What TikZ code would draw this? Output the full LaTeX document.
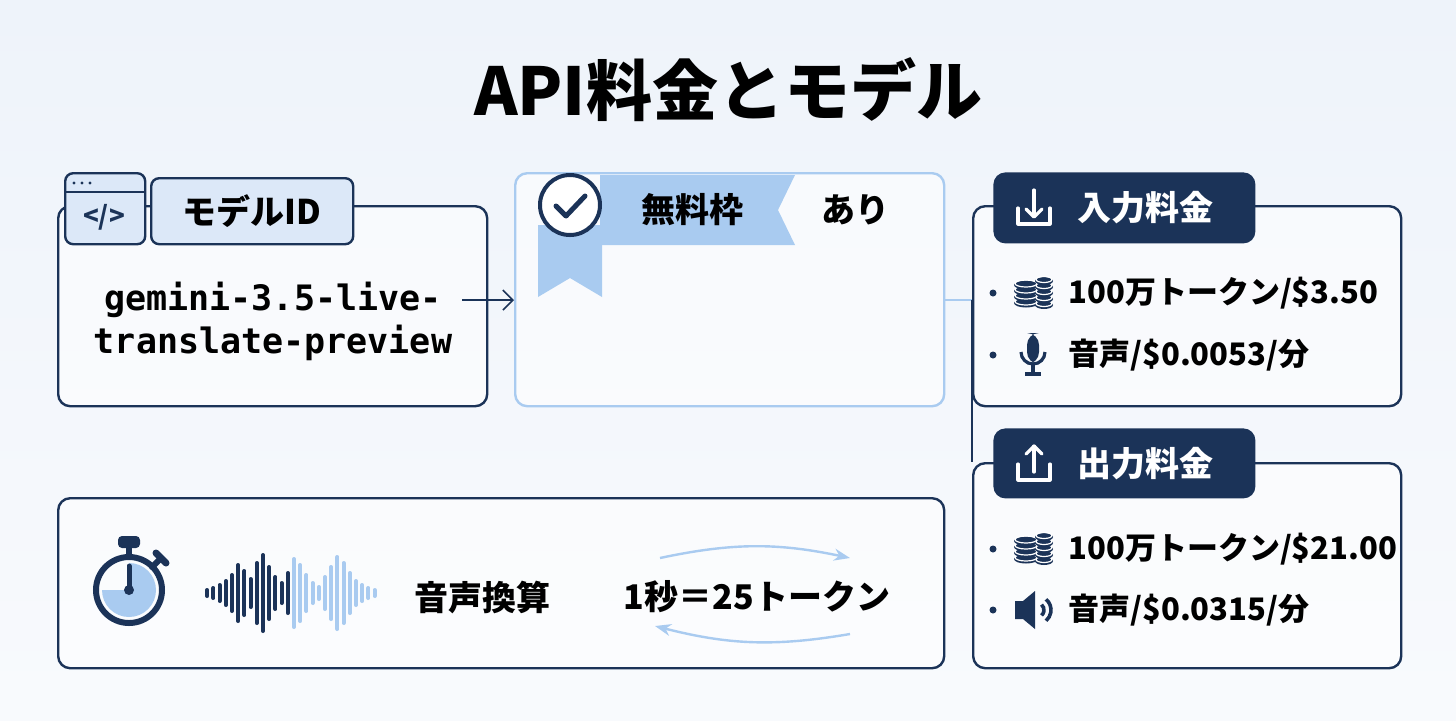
\documentclass[tikz,border=0pt]{standalone}
\usepackage{fontspec}
\setmainfont{Noto Sans CJK JP}
\setmonofont{DejaVu Sans Mono}
\usetikzlibrary{arrows.meta}
\definecolor{navy}{HTML}{1B3358}
\definecolor{lb}{HTML}{A9CBF0}
\definecolor{lbf}{HTML}{DCE8F8}
\definecolor{bg}{HTML}{EEF3FA}
\begin{document}
\begin{tikzpicture}[x=0.5pt,y=-0.5pt,
 box/.style={draw=navy,line width=1.2pt,rounded corners=6pt,fill=white,fill opacity=0.55,text opacity=1},
 lbox/.style={draw=lb,line width=1.2pt,rounded corners=6pt,fill=white,fill opacity=0.55},
 hdr/.style={fill=navy,rounded corners=6pt},
 txt/.style={font=\bfseries\fontsize{17}{20}\selectfont,text=black,anchor=west,inner sep=0},
 btxt/.style={font=\bfseries\fontsize{15.5}{18}\selectfont,text=black,anchor=west,inner sep=0},
 ic/.style={draw=navy,line width=1.4pt}]
\useasboundingbox (0,0) rectangle (1456,720);
\shade[top color=bg,bottom color=white!60!bg] (0,0) rectangle (1456,720);
\node (title) at (728,90) {\bfseries\fontsize{33}{37}\selectfont API料金とモデル};
% box 1
\node[box,minimum width=214.5pt,minimum height=100pt,anchor=north west] (b1) at (57,205) {};
\node[draw=navy,line width=1.2pt,rounded corners=4pt,fill=lbf,minimum width=101pt,minimum height=33pt,anchor=north west] (lab1) at (150,177) {};
\node[txt,anchor=center] at (lab1.center) {モデルID};
\node[draw=navy,line width=1.2pt,rounded corners=4pt,fill=lbf,minimum width=40pt,minimum height=35.5pt,anchor=north west] (ic1) at (64,172) {};
\draw[navy,line width=1.2pt] (64,192)--(144,192);
\foreach \x in {74,82,90} \fill[navy] (\x,183) circle (1.6);
\node[text=navy,font=\bfseries\fontsize{13}{13}\selectfont] at (104,217) {</>};
\node[font=\ttfamily\bfseries\fontsize{17.5}{21.5}\selectfont,align=center] (id) at (273,321) {gemini-3.5-live-\\translate-preview};
\coordinate (a1) at (462,300);
% box 2
\node[lbox,minimum width=214.5pt,minimum height=116.5pt,anchor=north west] (b2) at (514,172) {};
\draw[-{Straight Barb[length=5pt]},navy,line width=0.8pt] (a1) -- (b2.west|-a1);
\fill[lb] (600,175)--(795,175)--(778,210)--(795,245)--(600,245)--cycle;
\node[txt,anchor=center] (free) at (692,210) {無料枠};
\node[txt,anchor=center] (ari) at (855,210) {あり};
\fill[lb] (538,225)--(602,225)--(602,297)--(570,278)--(538,297)--cycle;
\draw[navy,line width=2pt,fill=white] (570,205) circle (30);
\draw[navy,line width=2.5pt,line cap=round,line join=round] (556,206)--(566,216)--(585,196);
% boxes 3,4
\node[box,minimum width=214pt,minimum height=100pt,anchor=north west] (b3) at (972,205) {};
\node[box,minimum width=214pt,minimum height=102.5pt,anchor=north west] (b4) at (972,462) {};
\draw[lb,line width=1.2pt] (b2.east|-a1) -- (972,300);
\draw[navy,line width=1pt] (972,300) -- (972,462);
\node[hdr,minimum width=131pt,minimum height=35.5pt,anchor=north west] (h3) at (993,172) {};
\node[txt,text=white,anchor=west] at (1077,208) {入力料金};
\node[hdr,minimum width=131pt,minimum height=35pt,anchor=north west] (h4) at (993,428) {};
\node[txt,text=white,anchor=west] at (1077,464) {出力料金};
\begin{scope}[white,line width=1.6pt,line cap=round,line join=round]
\draw (1018,208)--(1018,224)--(1050,224)--(1050,208);
\draw (1034,190)--(1034,216); \draw (1026,209)--(1034,217)--(1042,209);
\draw (1018,464)--(1018,480)--(1050,480)--(1050,464);
\draw (1034,472)--(1034,446); \draw (1026,454)--(1034,446)--(1042,454);
\end{scope}
% bullets
\foreach \y in {293,355,549,610} \fill[navy] (993,\y) circle (3.5);
\foreach \y/\t in {293/{100万トークン/\$3.50},355/{音声/\$0.0053/分},549/{100万トークン/\$21.00},610/{音声/\$0.0315/分}}{
 \node[btxt] at (1068,\y) {\t};
}
% coins
\foreach \y in {293,549}{
 \foreach \d in {10,4,-2,-8}{\fill[navy] (1026,\y+\d) ellipse (12 and 4.5); \draw[white,line width=0.6pt] (1026,\y+\d-1.5) ellipse (11 and 3.5);}
 \foreach \d in {12,6,0,-6,-12}{\fill[navy] (1044,\y+\d) ellipse (9 and 4); \draw[white,line width=0.6pt] (1044,\y+\d-1.5) ellipse (8 and 3);}
}
% mic
\fill[navy,rounded corners=6pt] (1027,333) rectangle (1039,364);
\draw[navy,line width=1.6pt] (1021,352) arc (180:0:12);
\draw[navy,line width=1.6pt] (1033,364)--(1033,374) (1025,374)--(1041,374);
% speaker
\fill[navy] (1015,601)--(1023,601)--(1035,591)--(1035,629)--(1023,619)--(1015,619)--cycle;
\draw[navy,line width=1.8pt] (1037,610) ++(-50:7) arc (-50:50:7);
\draw[navy,line width=1.8pt] (1037,610) ++(-50:14) arc (-50:50:14);
% box 5
\node[box,minimum width=443pt,minimum height=85pt,anchor=north west] (b5) at (57,497) {};
\fill[lb] (129,590) -- (129,563) arc (-90:180:27) -- cycle;
\draw[navy,line width=3pt] (129,590) circle (33);
\draw[navy,line width=2.5pt,line cap=round] (129,590)--(129,566);
\fill[navy] (129,590) circle (5);
\draw[navy,line width=3pt] (129,557)--(129,547);
\fill[navy,rounded corners=2pt] (118,536) rectangle (140,548);
\draw[navy,line width=3pt,line cap=round] (152,567)--(160,559);
\draw[navy,line width=3.5pt,line cap=round] (156,553)--(166,563);
\foreach[count=\i] \h in {3,5,8,12,18,28,22,14,30,38,26,16,10,20,34,28,18,10,6,16,26,36,30,20,12,8,5,3}{
 \pgfmathsetmacro\xx{201+\i*6.2}
 \ifnum\i<15 \draw[navy,line width=2pt,line cap=round] (\xx,593-\h)--(\xx,593+\h);
 \else \draw[lb,line width=2pt,line cap=round] (\xx,593-\h)--(\xx,593+\h); \fi
}
\node[txt,anchor=center] (conv) at (482,597) {音声換算};
\node[txt,anchor=center] (eq) at (757,597) {1秒＝25トークン};
\draw[lb,line width=1.2pt,-{Stealth[length=8pt]}] (660,558) to[bend left=12] (850,558);
\draw[lb,line width=1.2pt,-{Stealth[length=8pt]}] (850,634) to[bend left=12] (655,626);
\end{tikzpicture}
\end{document}
